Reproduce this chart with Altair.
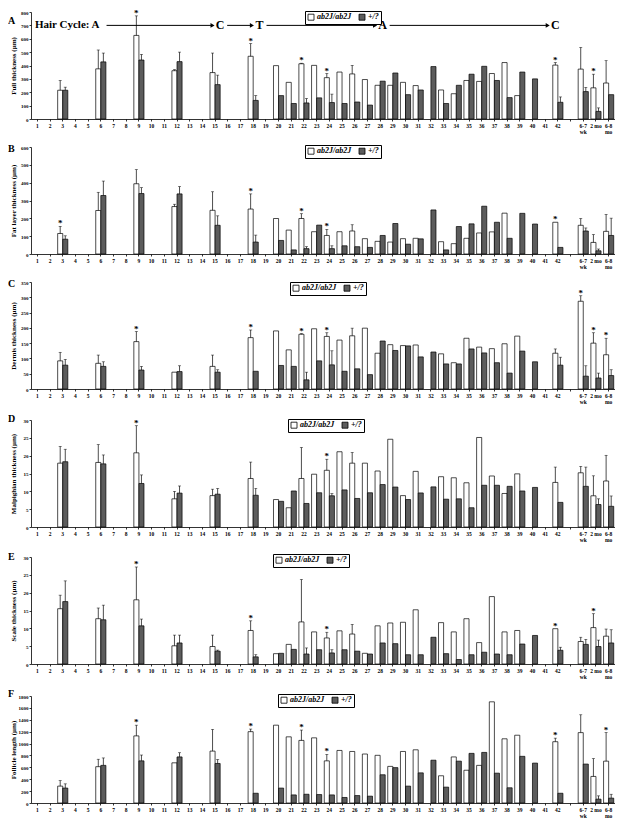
import altair as alt
import pandas as pd

SERIF = "Liberation Serif"
ALL_CATS = [str(d) for d in range(1, 43)] + [" ", "6-7 wk", "2 mo", "6-8 mo"]
DATA_CATS = ["3", "6", "9", "12", "15", "18"] + [str(d) for d in range(20, 41)] + ["42", "6-7 wk", "2 mo", "6-8 mo"]
SERIES = ["ab2J/ab2J", "+/?"]
N = None

# ---------------- Panel A: full thickness ----------------
A_WHITE = [215, 375, 625, 361, 347, 469, 399, 274, 413, 401, 309, 351, 337, 295, 252, 252, 274, 250, N,
           217, 189, 288, 281, 340, 422, 175, N, 403, 373, 233, 269]
A_GRAY = [215, 427, 441, 429, 257, 139, 175, 116, 120, 158, 123, 116, 127, 104, 283, 344, 182, 217, 392,
          116, 252, 335, 394, 288, 160, 351, 300, 125, 205, 57, 182]
A_WHITE_SD = {"3": 73, "6": 141, "9": 146, "12": 8, "15": 146, "18": 95, "22": 4, "24": 31, "26": 64,
              "42": 19, "6-7 wk": 162, "2 mo": 102, "6-8 mo": 167}
A_GRAY_SD = {"3": 23, "6": 66, "9": 42, "12": 71, "15": 71, "18": 36, "22": 33, "24": 63, "42": 40,
             "6-7 wk": 31, "2 mo": 26}
A_STARS = ["9", "18", "22", "24", "42", "2 mo"]

# ---------------- Panel B: fat layer ----------------
B_WHITE = [115, 244, 394, 266, 245, 252, 199, 134, 199, 125, 104, 125, 129, 86, 71, 67, 86, 88, N,
           69, 58, 88, 118, 124, 229, N, N, 178, 161, 65, 127]
B_GRAY = [83, 328, 339, 337, 161, 67, 76, 23, 30, 162, 30, 46, 41, 37, 104, 171, 55, 85, 247,
          23, 154, 169, 268, 178, 88, 228, 168, 37, 129, 18, 104]
B_WHITE_SD = {"3": 40, "6": 102, "9": 79, "12": 13, "15": 104, "18": 85, "22": 27, "24": 34, "26": 35,
              "6-7 wk": 38, "2 mo": 44, "6-8 mo": 95}
B_GRAY_SD = {"3": 19, "6": 81, "9": 33, "12": 41, "15": 53, "18": 39, "22": 11, "24": 16,
             "6-7 wk": 17, "2 mo": 10, "6-8 mo": 97}
B_STARS = ["3", "18", "22", "24", "42"]

# ---------------- Panel C: dermis ----------------
C_WHITE = [92, 84, 155, 55, 74, 168, 190, 128, 179, 197, 172, 160, 174, 199, 117, 145, 142, 144, N,
           115, 86, 166, 137, 132, 148, 173, N, 117, 287, 150, 112]
C_GRAY = [78, 74, 62, 57, 55, 58, 77, 74, 30, 92, 79, 58, 66, 47, 157, 126, 141, 105, 121,
          82, 82, 131, 118, 86, 52, 124, 89, 78, 42, 36, 44]
C_WHITE_SD = {"3": 28, "6": 27, "9": 33, "15": 37, "18": 25, "22": 2, "24": 12, "26": 25, "42": 14,
              "6-7 wk": 18, "2 mo": 34, "6-8 mo": 54}
C_GRAY_SD = {"3": 19, "6": 15, "9": 12, "12": 19, "15": 8, "22": 25, "24": 46, "42": 26,
             "6-7 wk": 34, "2 mo": 16, "6-8 mo": 19}
C_STARS = ["9", "18", "22", "24", "6-7 wk", "2 mo", "6-8 mo"]

# ---------------- Panel D: malpighian ----------------
D_WHITE = [17.9, 18.1, 20.8, 7.9, 8.8, 13.6, 7.7, 5.4, 13.6, 14.8, 15.9, 21.1, 17.9, 17.9, 15.7, 24.6, 8.8,
           15.6, N, 14.1, 13.8, 12.4, 25.1, 14.3, 9.4, 14.9, N, 12.5, 15.2, 8.75, 12.9]
D_GRAY = [18.3, 17.7, 12.2, 9.5, 9.2, 8.9, 7.2, 10.1, 6.6, 9.6, 8.75, 10.4, 8.0, 9.6, 11.9, 11.2, 7.7,
          9.55, 11.25, 7.8, 7.9, 5.4, 11.7, 11.7, 11.4, 10.1, 11.1, 6.9, 11.4, 6.3, 5.8]
D_WHITE_SD = {"3": 4.7, "6": 5.0, "9": 7.6, "12": 2.1, "15": 1.8, "18": 4.6, "22": 8.7, "24": 3.1,
              "26": 3.0, "42": 4.3, "6-7 wk": 1.8, "2 mo": 5.6, "6-8 mo": 7.2}
D_GRAY_SD = {"3": 3.5, "6": 2.5, "9": 2.4, "12": 2.0, "15": 1.6, "18": 1.9, "24": 0.6,
             "6-7 wk": 5.4, "2 mo": 1.6, "6-8 mo": 2.9}
D_STARS = ["9", "24"]

# ---------------- Panel E: scale ----------------
E_WHITE = [15.5, 12.7, 18.0, 5.1, 4.9, 9.4, 2.9, 5.5, 11.8, 9.0, 7.3, 9.3, 8.4, 3.0, 10.7, 11.5, 11.7,
           15.2, N, 11.6, 9.0, 12.7, 6.0, 18.9, 9.0, 9.4, N, 9.9, 6.3, 10.2, 7.8]
E_GRAY = [17.5, 12.4, 10.7, 5.9, 3.6, 2.0, 3.0, 4.1, 2.8, 4.0, 3.1, 4.0, 3.6, 2.8, 5.9, 5.7, 2.6,
          2.6, 7.5, 2.9, 1.25, 2.6, 3.3, 2.8, 2.6, 5.6, 8.0, 3.85, 5.5, 4.9, 5.9]
E_WHITE_SD = {"3": 3.8, "6": 3.0, "9": 9.2, "12": 3.0, "15": 3.2, "18": 2.7, "22": 11.9, "24": 1.6,
              "26": 2.7, "6-7 wk": 1.2, "2 mo": 3.9, "6-8 mo": 2.0}
E_GRAY_SD = {"3": 5.8, "6": 4.1, "9": 1.9, "12": 2.2, "15": 0.3, "18": 0.6, "22": 1.7, "24": 0.9,
             "42": 0.85, "6-7 wk": 1.4, "2 mo": 1.8, "6-8 mo": 3.7}
E_STARS = ["9", "18", "24", "42", "2 mo"]

# ---------------- Panel F: follicle length ----------------
F_WHITE = [284, 611, 1129, 676, 873, 1200, 1309, 1113, 1053, 1096, 709, 884, 867, 824, 802, 616, 867,
           895, N, 458, 775, 551, 633, 1702, 1080, 1140, N, 1031, 1184, 447, 704]
F_GRAY = [251, 633, 709, 775, 665, 164, 251, 136, 147, 142, 136, 93, 125, 115, 475, 595, 284,
          507, 720, 267, 704, 835, 851, 502, 256, 785, 671, 164, 655, 65, 82]
F_WHITE_SD = {"3": 92, "6": 125, "9": 180, "15": 365, "18": 44, "22": 174, "24": 109, "42": 60,
              "6-7 wk": 300, "2 mo": 300, "6-8 mo": 480}
F_GRAY_SD = {"3": 71, "6": 125, "9": 98, "12": 71, "15": 66, "2 mo": 55, "6-8 mo": 65}
F_STARS = ["9", "18", "22", "24", "42", "6-8 mo"]

# Hair-cycle annotation (stage labels and their positions in day units)
HAIR_LABELS = ["Hair Cycle: A", "C", "T", "A", "C"]
HAIR_POS = [5.9, 15.4, 18.5, 28.2, 41.8]

W, H = 584, 107
LABEL_EXPR = ("datum.value == '6-7 wk' ? ['6-7', 'wk'] : "
              "datum.value == '6-8 mo' ? ['6-8', 'mo'] : datum.value")

XAXIS = alt.Axis(title=None, labelAngle=0, labelFontSize=5.5, labelFont=SERIF, labelFontWeight="bold",
                 labelColor="black", tickSize=2, tickColor="black", domainColor="black",
                 labelPadding=2, labelOverlap=False, labelBound=False, labelExpr=LABEL_EXPR,
                 labelLineHeight=6)
XSCALE = alt.Scale(domain=ALL_CATS, paddingInner=0.2, paddingOuter=0.1)
XENC = alt.X("cat:N", scale=XSCALE, axis=XAXIS)
XOFF = alt.XOffset("series:N", scale=alt.Scale(domain=SERIES))


def panel(letter, white, white_sd, gray, gray_sd, stars, ytitle, ymax, ystep, legx, legy, lety, hair=False):
    rows = []
    for i, c in enumerate(DATA_CATS):
        for s, vals, sds in ((SERIES[0], white, white_sd), (SERIES[1], gray, gray_sd)):
            v = vals[i]
            if v is None:
                continue
            sd = sds.get(c)
            rows.append({"cat": c, "series": s, "value": v,
                         "top": (v + sd) if sd is not None else None})
    df = pd.DataFrame(rows)
    err = df.dropna(subset=["top"])
    st_rows = []
    for c in stars:
        sub = df[df["cat"] == c]
        t = max(sub["top"].fillna(0).max(), sub["value"].max())
        st_rows.append({"cat": c, "series": SERIES[0], "y": t, "t": "*"})
    st = pd.DataFrame(st_rows)

    yscale = alt.Scale(domain=[0, ymax], nice=False, zero=True)
    yaxis = alt.Axis(title=ytitle, values=list(range(0, ymax + 1, ystep)), format="d", labelFontSize=5,
                     labelFont=SERIF, labelFontWeight="bold", labelColor="black", tickSize=2,
                     tickColor="black", domainColor="black", labelPadding=1, grid=False,
                     titleFont=SERIF, titleFontSize=7, titleFontWeight="bold", titleColor="black",
                     titlePadding=1, minExtent=14, maxExtent=14)

    bars = alt.Chart(df).mark_bar(stroke="black", strokeWidth=0.7).encode(
        x=XENC, xOffset=XOFF,
        y=alt.Y("value:Q", scale=yscale, axis=yaxis),
        color=alt.Color("series:N", scale=alt.Scale(domain=SERIES, range=["white", "#5c5c5c"]),
                        legend=alt.Legend(title=None, orient="none", legendX=legx, legendY=legy,
                                          direction="horizontal", strokeColor="black", fillColor="white",
                                          padding=2, labelFont=SERIF, labelFontStyle="italic",
                                          labelFontWeight="bold", labelFontSize=8, labelColor="black",
                                          symbolType="square", symbolSize=36, symbolStrokeColor="black",
                                          symbolStrokeWidth=0.8, columnPadding=5, labelOffset=2)),
    )
    rules = alt.Chart(err).mark_rule(color="black", strokeWidth=0.7).encode(
        x=XENC, xOffset=XOFF,
        y=alt.Y("value:Q", scale=yscale, axis=yaxis), y2="top:Q",
    )
    caps = alt.Chart(err).mark_tick(color="black", thickness=0.7, size=3).encode(
        x=XENC, xOffset=XOFF,
        y=alt.Y("top:Q", scale=yscale, axis=yaxis),
    )
    starl = alt.Chart(st).mark_text(fontSize=9, fontWeight="bold", font=SERIF, dy=-3,
                                    baseline="middle", color="black").encode(
        x=XENC, xOffset=XOFF,
        y=alt.Y("y:Q", scale=yscale, axis=yaxis), text="t:N",
    )
    let = alt.Chart(pd.DataFrame({"t": [letter]})).mark_text(
        fontSize=10, fontWeight="bold", font=SERIF, align="left", baseline="middle", color="black"
    ).encode(x=alt.value(-23), y=alt.value(lety), text="t:N")

    core = alt.layer(bars, rules, caps, starl, let)
    if not hair:
        return core.properties(width=W, height=H)

    hy = ymax * 0.875
    lab = pd.DataFrame({"t": HAIR_LABELS, "x": [p - 0.5 for p in HAIR_POS], "y": [hy] * len(HAIR_POS)})
    arr = pd.DataFrame({"x0": [p + 0.55 - 0.5 for p in HAIR_POS[:-1]],
                        "x1": [p - 0.6 - 0.5 for p in HAIR_POS[1:]],
                        "y": [hy] * (len(HAIR_POS) - 1)})
    hx = alt.Scale(domain=[0, len(ALL_CATS)], nice=False, zero=False)
    ly = alt.Y("y:Q", scale=yscale, axis=yaxis)
    first = alt.Chart(lab.iloc[:1]).mark_text(fontSize=11, fontWeight="bold", font=SERIF, align="right",
                                              baseline="middle", color="black").encode(
        x=alt.X("x:Q", scale=hx, axis=None), y=ly, text="t:N")
    rest = alt.Chart(lab.iloc[1:]).mark_text(fontSize=12, fontWeight="bold", font=SERIF, align="center",
                                             baseline="middle", color="black").encode(
        x=alt.X("x:Q", scale=hx, axis=None), y=ly, text="t:N")
    lines = alt.Chart(arr).mark_rule(color="black", strokeWidth=1).encode(
        x=alt.X("x0:Q", scale=hx, axis=None), x2="x1:Q", y=ly)
    heads = alt.Chart(arr).mark_point(shape="triangle-right", filled=True, size=22, color="black",
                                      opacity=1).encode(
        x=alt.X("x1:Q", scale=hx, axis=None), y=ly)
    ann = alt.layer(first, rest, lines, heads)
    return alt.layer(core, ann).resolve_scale(x="independent").properties(width=W, height=H)


pA = panel("A", A_WHITE, A_WHITE_SD, A_GRAY, A_GRAY_SD, A_STARS, "Full thickness (µm)", 800, 100,
           274, -1, 9, hair=True)
pB = panel("B", B_WHITE, B_WHITE_SD, B_GRAY, B_GRAY_SD, B_STARS, "Fat layer thickness (µm)", 600, 100,
           274, -2, 2)
pC = panel("C", C_WHITE, C_WHITE_SD, C_GRAY, C_GRAY_SD, C_STARS, "Dermis thickness (µm)", 350, 50,
           259, 0, 2)
pD = panel("D", D_WHITE, D_WHITE_SD, D_GRAY, D_GRAY_SD, D_STARS, "Malpighian thickness (µm)", 30, 5,
           257, -1, -1)
pE = panel("E", E_WHITE, E_WHITE_SD, E_GRAY, E_GRAY_SD, E_STARS, "Scale thickness (µm)", 30, 5,
           242, -3, 0)
pF = panel("F", F_WHITE, F_WHITE_SD, F_GRAY, F_GRAY_SD, F_STARS, "Follicle length (µm)", 1800, 200,
           247, -2, -2)

chart = (
    alt.vconcat(pA, pB, pC, pD, pE, pF, spacing=9)
    .resolve_scale(color="independent", x="independent", y="independent")
    .resolve_legend(color="independent")
    .configure_view(stroke=None)
    .configure_axis(domainWidth=0.8, tickWidth=0.8)
    .properties(background="white", padding={"left": 0, "top": 0, "right": 0, "bottom": 0})
)

chart.save("out.html", embed_options={"renderer": "svg", "actions": False})
